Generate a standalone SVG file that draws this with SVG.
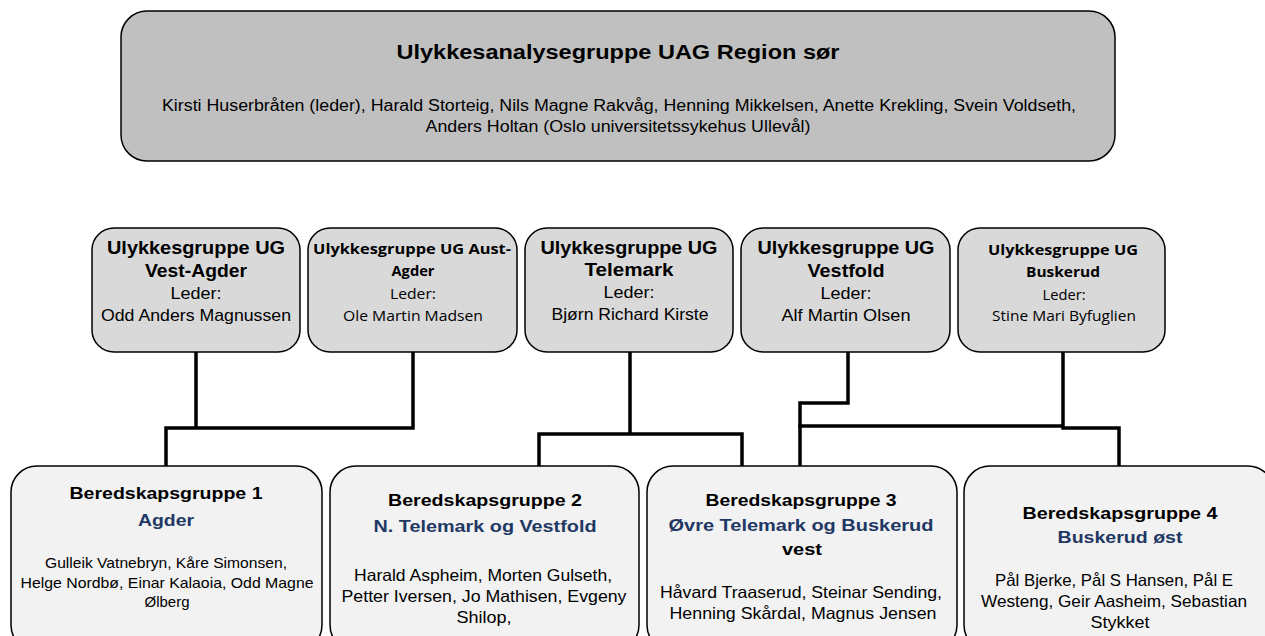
<svg xmlns="http://www.w3.org/2000/svg" width="1265" height="636" viewBox="0 0 1265 636">
<style>
.box{stroke:#000;stroke-width:1.5}
.top{fill:#c0c0c0}
.ug{fill:#d9d9d9}
.bg{fill:#f2f2f2}
text{font-family:"Liberation Sans",Arial,sans-serif;text-anchor:middle;fill:#000}
.b{font-weight:bold}
.c{font-family:"Open Sans","Liberation Sans",sans-serif}
.blue{fill:#1f3864;font-weight:bold}
.conn{fill:none;stroke:#000;stroke-width:3.5;stroke-linejoin:miter;stroke-linecap:square}
</style>
<rect width="1265" height="636" fill="#fff"/>
<g id="connectors">
<path class="conn" d="M196,353 V428 M413,353 V428 M166,428 H413 M166,428 V465"/>
<path class="conn" d="M630,353 V434 M539,434 H742 M539,434 V465 M742,434 V465"/>
<path class="conn" d="M848,353 V403 H800 V465"/>
<path class="conn" d="M1063,353 V427 M800,426 H1063 M1063,428 H1119 V465"/>
</g>
<g id="uag">
<rect class="box top" x="121" y="11" width="994" height="150" rx="26"/>
<text class="b" x="618" y="59" font-size="20" textLength="443" lengthAdjust="spacingAndGlyphs">Ulykkesanalysegruppe UAG Region sør</text>
<text x="619" y="111" font-size="16" textLength="914" lengthAdjust="spacingAndGlyphs">Kirsti Huserbråten (leder), Harald Storteig, Nils Magne Rakvåg, Henning Mikkelsen, Anette Krekling, Svein Voldseth,</text>
<text x="618" y="132" font-size="16" textLength="385" lengthAdjust="spacingAndGlyphs">Anders Holtan (Oslo universitetssykehus Ullevål)</text>
</g>
<g id="ug-vest-agder">
<rect class="box ug" x="92" y="228" width="208" height="124" rx="22"/>
<text class="b" x="196" y="254" font-size="18" textLength="178" lengthAdjust="spacingAndGlyphs">Ulykkesgruppe UG</text>
<text class="b" x="196" y="277" font-size="18" textLength="102" lengthAdjust="spacingAndGlyphs">Vest-Agder</text>
<text x="196" y="299" font-size="17" textLength="51" lengthAdjust="spacingAndGlyphs">Leder:</text>
<text x="196" y="321" font-size="17" textLength="190" lengthAdjust="spacingAndGlyphs">Odd Anders Magnussen</text>
</g>
<g id="ug-aust-agder">
<rect class="box ug" x="308" y="228" width="209" height="124" rx="22"/>
<text class="b c" x="412" y="254" font-size="15" textLength="198" lengthAdjust="spacingAndGlyphs">Ulykkesgruppe UG Aust-</text>
<text class="b c" x="413" y="276" font-size="15" textLength="43" lengthAdjust="spacingAndGlyphs">Agder</text>
<text class="c" x="413" y="299" font-size="15" textLength="46" lengthAdjust="spacingAndGlyphs">Leder:</text>
<text class="c" x="413" y="321" font-size="15" textLength="140" lengthAdjust="spacingAndGlyphs">Ole Martin Madsen</text>
</g>
<g id="ug-telemark">
<rect class="box ug" x="525" y="228" width="208" height="124" rx="22"/>
<text class="b" x="629" y="254" font-size="18" textLength="177" lengthAdjust="spacingAndGlyphs">Ulykkesgruppe UG</text>
<text class="b" x="629" y="276" font-size="18" textLength="89" lengthAdjust="spacingAndGlyphs">Telemark</text>
<text x="629" y="298" font-size="17" textLength="51" lengthAdjust="spacingAndGlyphs">Leder:</text>
<text x="630" y="320" font-size="17" textLength="157" lengthAdjust="spacingAndGlyphs">Bjørn Richard Kirste</text>
</g>
<g id="ug-vestfold">
<rect class="box ug" x="741" y="228" width="209" height="124" rx="22"/>
<text class="b" x="846" y="254" font-size="18" textLength="177" lengthAdjust="spacingAndGlyphs">Ulykkesgruppe UG</text>
<text class="b" x="846" y="277" font-size="18" textLength="77" lengthAdjust="spacingAndGlyphs">Vestfold</text>
<text x="846" y="299" font-size="17" textLength="51" lengthAdjust="spacingAndGlyphs">Leder:</text>
<text x="846" y="321" font-size="17" textLength="129" lengthAdjust="spacingAndGlyphs">Alf Martin Olsen</text>
</g>
<g id="ug-buskerud">
<rect class="box ug" x="958" y="228" width="207" height="124" rx="22"/>
<text class="b c" x="1063" y="255" font-size="15" textLength="150" lengthAdjust="spacingAndGlyphs">Ulykkesgruppe UG</text>
<text class="b c" x="1063" y="277" font-size="15" textLength="74" lengthAdjust="spacingAndGlyphs">Buskerud</text>
<text class="c" x="1064" y="300" font-size="15" textLength="43" lengthAdjust="spacingAndGlyphs">Leder:</text>
<text class="c" x="1064" y="321" font-size="15" textLength="144" lengthAdjust="spacingAndGlyphs">Stine Mari Byfuglien</text>
</g>
<g id="bg1">
<rect class="box bg" x="11" y="466" width="311" height="185" rx="26"/>
<text class="b" x="166" y="499" font-size="17" textLength="193" lengthAdjust="spacingAndGlyphs">Beredskapsgruppe 1</text>
<text class="blue" x="166" y="526" font-size="17" textLength="56" lengthAdjust="spacingAndGlyphs">Agder</text>
<text x="166" y="568" font-size="15" textLength="242" lengthAdjust="spacingAndGlyphs">Gulleik Vatnebryn, Kåre Simonsen,</text>
<text x="167" y="588" font-size="15" textLength="293" lengthAdjust="spacingAndGlyphs">Helge Nordbø, Einar Kalaoia, Odd Magne</text>
<text x="167" y="607" font-size="15" textLength="45" lengthAdjust="spacingAndGlyphs">Ølberg</text>
</g>
<g id="bg2">
<rect class="box bg" x="330" y="466" width="309" height="185" rx="26"/>
<text class="b" x="485" y="506" font-size="17" textLength="194" lengthAdjust="spacingAndGlyphs">Beredskapsgruppe 2</text>
<text class="blue" x="485" y="532" font-size="17" textLength="223" lengthAdjust="spacingAndGlyphs">N. Telemark og Vestfold</text>
<text x="483" y="581" font-size="16.5" textLength="258" lengthAdjust="spacingAndGlyphs">Harald Aspheim, Morten Gulseth,</text>
<text x="484" y="602" font-size="16.5" textLength="285" lengthAdjust="spacingAndGlyphs">Petter Iversen, Jo Mathisen, Evgeny</text>
<text x="484" y="623" font-size="16.5" textLength="55" lengthAdjust="spacingAndGlyphs">Shilop,</text>
</g>
<g id="bg3">
<rect class="box bg" x="647" y="466" width="310" height="185" rx="26"/>
<text class="b" x="801" y="506" font-size="17" textLength="191" lengthAdjust="spacingAndGlyphs">Beredskapsgruppe 3</text>
<text class="blue" x="801" y="531" font-size="17" textLength="265" lengthAdjust="spacingAndGlyphs">Øvre Telemark og Buskerud</text>
<text class="b" x="802" y="555" font-size="17" textLength="40" lengthAdjust="spacingAndGlyphs">vest</text>
<text x="801" y="598" font-size="16.5" textLength="282" lengthAdjust="spacingAndGlyphs">Håvard Traaserud, Steinar Sending,</text>
<text x="803" y="619" font-size="16.5" textLength="267" lengthAdjust="spacingAndGlyphs">Henning Skårdal, Magnus Jensen</text>
</g>
<g id="bg4">
<rect class="box bg" x="964" y="466" width="310" height="185" rx="26"/>
<text class="b" x="1120" y="519" font-size="17" textLength="195" lengthAdjust="spacingAndGlyphs">Beredskapsgruppe 4</text>
<text class="blue" x="1120" y="543" font-size="17" textLength="125" lengthAdjust="spacingAndGlyphs">Buskerud øst</text>
<text x="1114" y="586" font-size="16.5" textLength="238" lengthAdjust="spacingAndGlyphs">Pål Bjerke, Pål S Hansen, Pål E</text>
<text x="1114" y="607" font-size="16.5" textLength="266" lengthAdjust="spacingAndGlyphs">Westeng, Geir Aasheim, Sebastian</text>
<text x="1120" y="628" font-size="16.5" textLength="59" lengthAdjust="spacingAndGlyphs">Stykket</text>
</g>
</svg>
